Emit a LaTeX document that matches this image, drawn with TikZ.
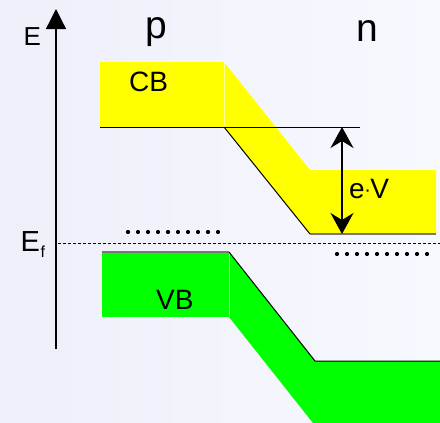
\documentclass[tikz,border=0pt]{standalone}
\usepackage{fontspec}
\setmainfont{Liberation Sans}
\usetikzlibrary{arrows.meta}
\definecolor{bgl}{RGB}{239,239,250}
\definecolor{bgr}{RGB}{248,248,255}
\definecolor{cbyellow}{RGB}{255,255,0}
\definecolor{vbgreen}{RGB}{0,255,0}
\definecolor{edgegray}{RGB}{120,120,120}
\tikzset{
  lbl/.style={inner sep=0pt, anchor=base west, text=black},
  bandline/.style={black, line width=1pt},
  grayedge/.style={edgegray, line width=2pt},
  seam/.style={white, opacity=0.6, line width=0.8pt},
  fdot/.style={circle, fill=black, inner sep=0pt, minimum size=4.2pt},
}
\begin{document}
\begin{tikzpicture}[x=1pt,y=-1pt]
\useasboundingbox (0,0) rectangle (440,423);
\shade[left color=bgl, right color=bgr] (0,0) rectangle (440,423);

% valence band
\fill[vbgreen] (102,252) rectangle (229,317);
\fill[vbgreen] (229,252) -- (315,361) -- (440,361) -- (440,423) -- (313,423) -- (229,317) -- cycle;
\draw[seam] (229,253) -- (229,317);
\draw[grayedge] (102,251.5) -- (229,251.5);
\draw[bandline] (229,252) -- (315,361) -- (440,361);

% conduction band
\fill[cbyellow] (100,62) rectangle (224,127);
\fill[cbyellow] (224,62) -- (310,170) -- (436,170) -- (436,234) -- (310,234) -- (224,127) -- cycle;
\draw[seam] (224,62) -- (224,126);
\draw[grayedge] (310,234) -- (436,234);
\coordinate (cbl) at (100,127);
\coordinate (cbr) at (360,127);
\coordinate (kink) at (224,127);
\coordinate (cbn) at (310,234);
\draw[bandline] (cbl) -- (cbr);
\draw[bandline] (kink) -- (cbn);

% Fermi level
\coordinate (fl) at (58,243);
\coordinate (fr) at (440,243);
\draw[black, line width=0.9pt, dash pattern=on 3pt off 2pt] (fl) -- (fr);

% dots
\foreach \i in {0,...,9} {
  \node[fdot] (pd\i) at ({128+10*\i},232) {};
  \node[fdot] (nd\i) at ({337+10*\i},254) {};
}

% energy axis
\coordinate (ab) at (56,349);
\coordinate (at) at (56,9);
\draw[black, line width=1.3pt, -{Triangle[length=20pt,width=20pt]}] (ab) -- (at);

% eV arrow
\coordinate (vt) at (342,127);
\coordinate (vb) at (342,234);
\draw[black, line width=1.2pt, {Stealth[length=21pt,width=23pt,inset=7pt]}-{Stealth[length=21pt,width=23pt,inset=7pt]}] (vb) -- (vt);

% labels
\node[lbl, font=\fontsize{26}{26}\selectfont] (E) at (23.5,45.7) {E};
\node[lbl, font=\fontsize{39}{39}\selectfont] (p) at (145.5,38.5) {p};
\node[lbl, font=\fontsize{39}{39}\selectfont] (n) at (356,41.7) {n};
\node[lbl, font=\fontsize{28}{28}\selectfont] (CB) at (129,92) {CB};
\node[lbl, font=\fontsize{28}{28}\selectfont] (VB) at (156,309) {VB};
\node[lbl, font=\fontsize{28}{28}\selectfont] (eV) at (349,198) {e\kern-0.5pt{\fontsize{20}{20}\selectfont\raisebox{1.5pt}{·}}\kern-0.5ptV};
\node[lbl, font=\fontsize{29}{29}\selectfont] (Ef) at (20.5,251.7) {E\kern0.5pt\raisebox{-6pt}{\fontsize{16}{16}\selectfont f}};
\end{tikzpicture}
\end{document}
